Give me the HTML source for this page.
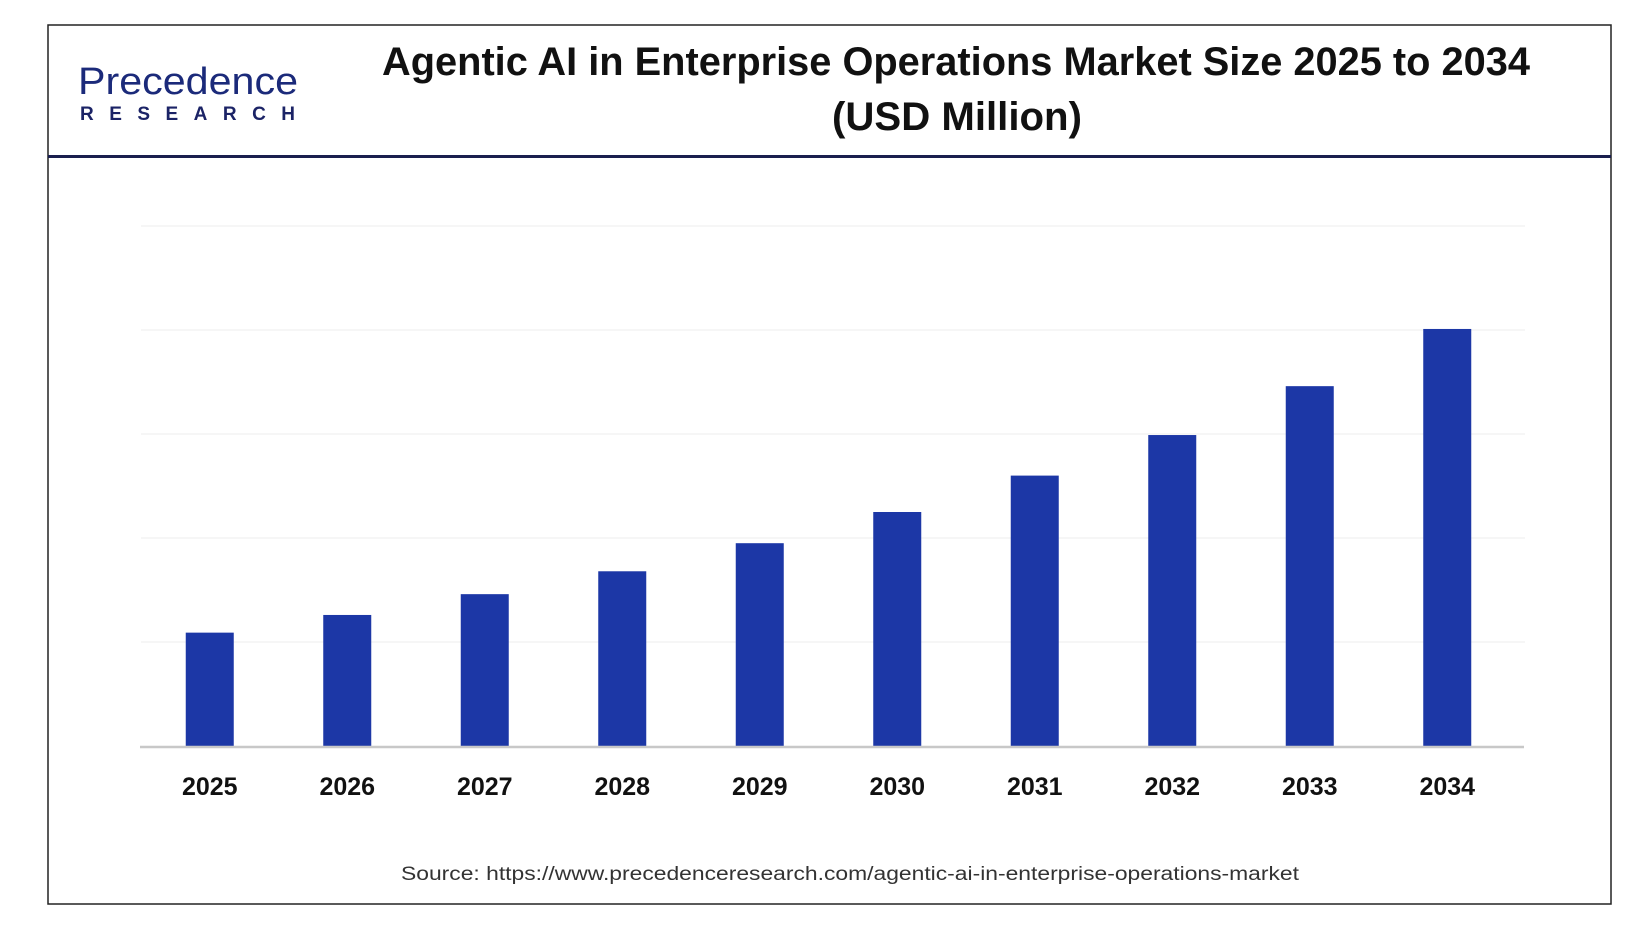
<!DOCTYPE html>
<html><head><meta charset="utf-8"><style>
html,body{margin:0;padding:0;background:#fff;}
svg{display:block;font-family:"Liberation Sans",sans-serif;}
</style></head><body>
<svg id="chart" width="1648" height="930" viewBox="0 0 1648 930">
  <rect x="48" y="25" width="1563" height="879" fill="#fff" stroke="#222" stroke-width="1.5"/>
  <line x1="48" y1="156.5" x2="1611" y2="156.5" stroke="#1a1f4e" stroke-width="3"/>
  <g>
    <text x="78" y="94" font-size="38" fill="#1b2a7a" textLength="220" lengthAdjust="spacingAndGlyphs">Precedence</text>
    <text x="80" y="120" font-size="19" font-weight="bold" fill="#1b2366" textLength="215" lengthAdjust="spacing">RESEARCH</text>
  </g>
  <text x="382" y="75" font-size="40" font-weight="bold" fill="#111" textLength="1148" lengthAdjust="spacingAndGlyphs">Agentic AI in Enterprise Operations Market Size 2025 to 2034</text>
  <text x="957" y="130" font-size="40" font-weight="bold" fill="#111" text-anchor="middle" textLength="250" lengthAdjust="spacingAndGlyphs">(USD Million)</text>
  <g id="grid"></g>
  <g id="bars"></g>
  <g id="xlabels"></g>
  <text x="850" y="880" font-size="19" fill="#333" text-anchor="middle" textLength="898" lengthAdjust="spacingAndGlyphs">Source: https://www.precedenceresearch.com/agentic-ai-in-enterprise-operations-market</text>
</svg>
<script>
const categories = ["2025","2026","2027","2028","2029","2030","2031","2032","2033","2034"];
const values = [1.09,1.26,1.46,1.68,1.95,2.25,2.60,2.99,3.46,4.01];
const gridTicks = [1,2,3,4,5];
const yMax = 5;
const plotL = 141, plotR = 1516, plotTop = 226, plotBottom = 746;
const NS = "http://www.w3.org/2000/svg";
const band = (plotR - plotL) / categories.length;
function xScale(i){ return plotL + band * (i + 0.5); }
function yScale(v){ return plotBottom - (v / yMax) * (plotBottom - plotTop); }
const grid = document.getElementById('grid');
gridTicks.forEach(t => {
  const l = document.createElementNS(NS, 'line');
  l.setAttribute('x1', plotL); l.setAttribute('x2', plotR + 9);
  l.setAttribute('y1', yScale(t)); l.setAttribute('y2', yScale(t));
  l.setAttribute('stroke', '#ececec'); l.setAttribute('stroke-width', '1');
  
  
  grid.appendChild(l);
});
const bars = document.getElementById('bars');
const bw = 48;
values.forEach((v, i) => {
  const r = document.createElementNS(NS, 'rect');
  r.setAttribute('x', xScale(i) - bw / 2);
  r.setAttribute('y', yScale(v));
  r.setAttribute('width', bw);
  r.setAttribute('height', plotBottom - yScale(v));
  r.setAttribute('fill', '#1c37a6');
  
  
  bars.appendChild(r);
});
const axis = document.createElementNS(NS, 'line');
axis.setAttribute('x1', plotL - 1); axis.setAttribute('x2', plotR + 8);
axis.setAttribute('y1', plotBottom + 1); axis.setAttribute('y2', plotBottom + 1);
axis.setAttribute('stroke', '#c8c8c8'); axis.setAttribute('stroke-width', '2.5');


bars.appendChild(axis);
const xl = document.getElementById('xlabels');
categories.forEach((c, i) => {
  const t = document.createElementNS(NS, 'text');
  t.setAttribute('x', xScale(i)); t.setAttribute('y', 795);
  t.setAttribute('text-anchor', 'middle');
  t.setAttribute('font-size', '25'); t.setAttribute('font-weight', 'bold'); t.setAttribute('fill', '#111');
  t.textContent = c;
  
  
  xl.appendChild(t);
});
</script>
</body></html>
